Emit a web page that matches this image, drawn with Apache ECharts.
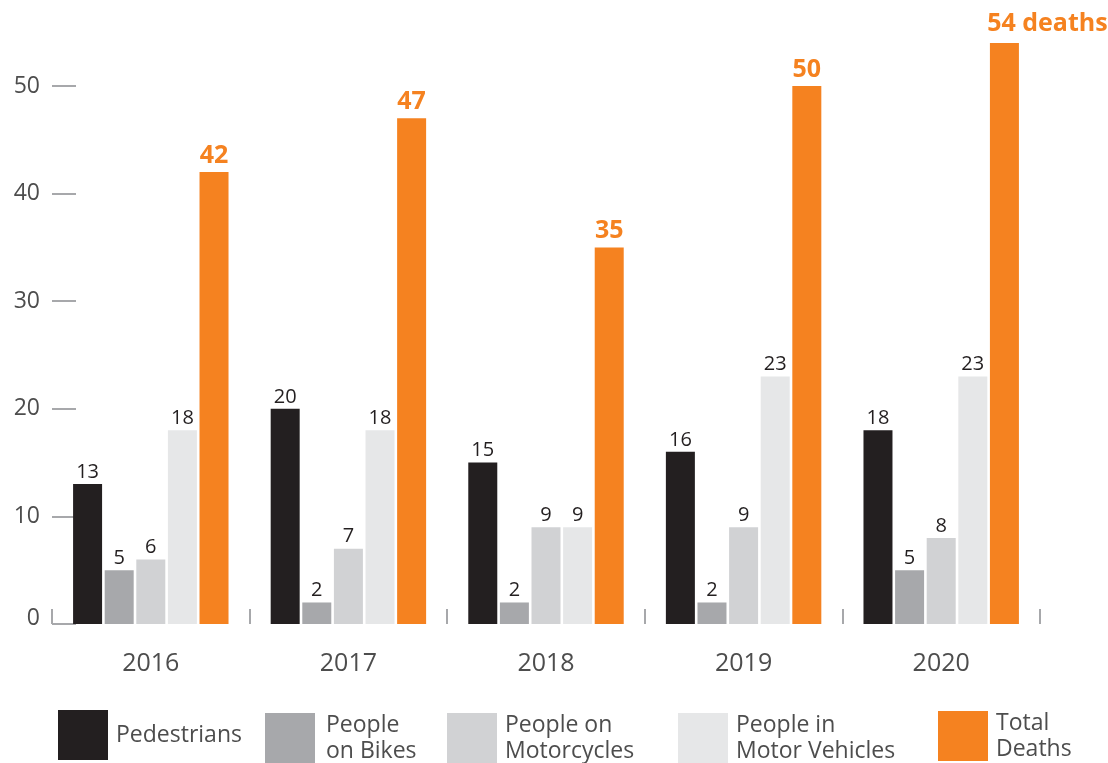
<!DOCTYPE html>
<html>
<head>
<meta charset="utf-8">
<script src="https://cdn.jsdelivr.net/npm/echarts@6/dist/echarts.min.js"></script>
<style>html,body{margin:0;padding:0;background:#fff}#c{width:1108px;height:763px}</style>
</head>
<body>
<div id="c"></div>
<script>
const categories = ['2016', '2017', '2018', '2019', '2020'];
const pedestrians = [13, 20, 15, 16, 18];
const bikes = [5, 2, 2, 2, 5];
const motorcycles = [6, 7, 9, 9, 8];
const vehicles = [18, 18, 9, 23, 23];
const totals = [42, 47, 35, 50, 54];
const seriesNames = ['Pedestrians', 'People on Bikes', 'People on Motorcycles', 'People in Motor Vehicles', 'Total Deaths'];
const legendLabels = ['Pedestrians', 'People\non Bikes', 'People on\nMotorcycles', 'People in\nMotor Vehicles', 'Total\nDeaths'];
const yTicks = [0, 10, 20, 30, 40, 50];

const colors = ['#231f20', '#a7a8ab', '#d1d2d4', '#e6e7e8', '#f58220'];
const font = '"Open Sans", "Noto Sans", sans-serif';
const chart = echarts.init(document.getElementById('c'));

const valueLabel = {
  show: true, position: 'top', distance: 2,
  fontFamily: font, fontSize: 20, color: '#231f20'
};
function mk(i, data, extra) {
  return Object.assign({
    name: seriesNames[i], type: 'bar', data: data, barWidth: 29, barGap: '9%',
    clip: false, itemStyle: { color: colors[i] }, label: valueLabel
  }, extra || {});
}
const legendLeft = [53, 260, 442, 673, 933];
const legendTop = [705, 707, 707, 707, 705];
const legends = seriesNames.map((n, i) => ({
  data: [n], left: legendLeft[i], top: legendTop[i], itemWidth: 50, itemHeight: 50,
  icon: 'rect', itemGap: 0, selectedMode: false,
  formatter: () => legendLabels[i],
  textStyle: { fontFamily: font, fontSize: 23, lineHeight: 26, color: '#4d4d4d', padding: [0, 0, 0, i === 1 ? 6 : 3] }
}));

const totalData = totals.map((v, i) => i === totals.length - 1
  ? { value: v, label: { offset: [43, -3], formatter: '{c} deaths' } }
  : v);

chart.setOption({
  animation: false,
  grid: { left: 52, right: 68, top: 86, bottom: 139 },
  legend: legends,
  xAxis: {
    type: 'category', data: categories,
    axisLine: { show: false },
    axisTick: { show: true, inside: true, length: 15, lineStyle: { color: '#a7a8ab', width: 2 } },
    axisLabel: { fontFamily: font, fontSize: 25, color: '#4d4d4d', margin: 27 }
  },
  yAxis: {
    type: 'value', min: yTicks[0], max: yTicks[yTicks.length - 1], interval: 10,
    axisLine: { show: false },
    splitLine: { show: false },
    axisTick: { show: true, inside: true, length: 24, lineStyle: { color: '#a7a8ab', width: 2 } },
    axisLabel: {
      fontFamily: font, fontSize: 23, color: '#4d4d4d', margin: 12,
      formatter: v => v === 0 ? '{z|0}' : String(v),
      rich: { z: { fontFamily: font, fontSize: 23, color: '#4d4d4d', padding: [0, 0, 12, 0] } }
    }
  },
  series: [
    mk(0, pedestrians),
    mk(1, bikes),
    mk(2, motorcycles),
    mk(3, vehicles),
    mk(4, totalData, {
      label: {
        show: true, position: 'top', distance: 4,
        fontFamily: font, fontSize: 25, fontWeight: 'bold', color: '#f58220'
      }
    })
  ]
});
</script>
</body>
</html>
